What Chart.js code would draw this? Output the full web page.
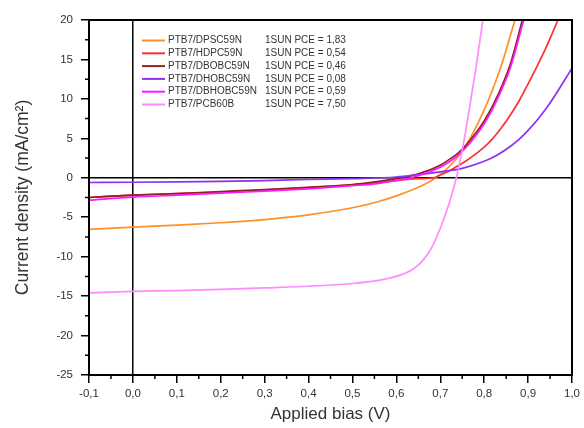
<!DOCTYPE html>
<html>
<head>
<meta charset="utf-8">
<script src="https://cdn.jsdelivr.net/npm/chart.js@4/dist/chart.umd.min.js"></script>
<style>
html,body{margin:0;padding:0;background:#fff;}
canvas{display:block;}
</style>
</head>
<body>
<canvas id="c" width="584" height="428"></canvas>
<script>
// ---- Data ----
const seriesNames = ["PTB7/DPSC59N","PTB7/HDPC59N","PTB7/DBOBC59N","PTB7/DHOBC59N","PTB7/DBHOBC59N","PTB7/PCB60B"];
const pceLabels = ["1SUN PCE = 1,83","1SUN PCE = 0,54","1SUN PCE = 0,46","1SUN PCE = 0,08","1SUN PCE = 0,59","1SUN PCE = 7,50"];

const vDPSC   = [-0.1, 0, 0.1, 0.2, 0.3, 0.4, 0.5, 0.56, 0.6, 0.65, 0.67, 0.69, 0.72, 0.75, 0.77, 0.79, 0.81, 0.84, 0.87];
const jDPSC   = [-6.55,-6.25,-6.0,-5.7,-5.3,-4.7,-3.8,-3.0,-2.3,-1.2,-0.65,0,1.4,3.4,5.2,7.4,9.9,14.4,20];

const vHDPC   = [-0.1, 0, 0.1, 0.2, 0.3, 0.4, 0.5, 0.56, 0.6, 0.65, 0.686, 0.7, 0.72, 0.74, 0.76, 0.78, 0.8, 0.82, 0.84, 0.86, 0.88, 0.9, 0.92, 0.94, 0.968];
const jHDPC   = [-2.5,-2.2,-2.0,-1.8,-1.55,-1.25,-0.9,-0.6,-0.35,-0.12,0,0.35,0.85,1.5,2.2,3.0,3.9,5.0,6.4,8.0,9.8,11.9,14.1,16.4,20];

const vDBOBC  = [-0.1, 0, 0.1, 0.2, 0.3, 0.4, 0.5, 0.56, 0.6, 0.65, 0.7, 0.72, 0.74, 0.76, 0.78, 0.8, 0.82, 0.84, 0.86, 0.887];
const jDBOBC  = [-2.5,-2.2,-2.0,-1.75,-1.5,-1.2,-0.85,-0.45,-0.1,0.5,1.6,2.3,3.1,4.2,5.6,7.2,9.2,11.6,14.5,20];

const vDHOBC  = [-0.1, 0, 0.1, 0.2, 0.3, 0.4, 0.5, 0.6, 0.65, 0.7, 0.75, 0.8, 0.83, 0.86, 0.88, 0.9, 0.925, 0.955, 1.0];
const jDHOBC  = [-0.6,-0.57,-0.52,-0.45,-0.35,-0.22,-0.1,0.1,0.4,0.75,1.2,2.1,2.9,4.0,4.9,6.0,7.6,9.9,13.9];

const vDBHOBC = [-0.1, 0, 0.1, 0.2, 0.3, 0.4, 0.5, 0.56, 0.6, 0.65, 0.7, 0.72, 0.74, 0.76, 0.78, 0.8, 0.82, 0.84, 0.86, 0.89];
const jDBHOBC = [-2.85,-2.45,-2.2,-1.95,-1.7,-1.4,-1.0,-0.7,-0.35,0.25,1.35,2.0,2.85,3.9,5.25,6.85,8.8,11.2,14.0,20];

const vPCB    = [-0.1, 0, 0.1, 0.2, 0.3, 0.4, 0.5, 0.56, 0.6, 0.62, 0.64, 0.66, 0.68, 0.7, 0.72, 0.73, 0.74, 0.75, 0.76, 0.78, 0.797];
const jPCB    = [-14.6,-14.4,-14.3,-14.15,-13.95,-13.75,-13.4,-13.0,-12.5,-12.1,-11.5,-10.5,-8.9,-6.4,-3.3,-1.4,0.8,3.5,6.6,13.5,20];

const seriesV = [vDPSC, vHDPC, vDBOBC, vDHOBC, vDBHOBC, vPCB];
const seriesJ = [jDPSC, jHDPC, jDBOBC, jDHOBC, jDBHOBC, jPCB];
const seriesColors = ["#ff8f26","#ff3030","#8b2323","#8a33f0","#ff18ff","#ff8cff"];

const yTicks = [-25,-20,-15,-10,-5,0,5,10,15,20];
const xTickMin = -0.1, xTickMax = 1.0;

// ---- Build datasets ----
const datasets = seriesNames.map((name, i) => ({
  label: name,
  data: seriesV[i].map((v, k) => ({x: v, y: seriesJ[i][k]})),
  borderColor: seriesColors[i],
  backgroundColor: seriesColors[i],
  borderWidth: 1.7,
  pointRadius: 0,
  showLine: true,
  fill: false,
  cubicInterpolationMode: 'monotone',
  order: 6 - i
}));

const FONT = "'Liberation Sans', Arial, sans-serif";
const TXT = '#333';

const framePlugin = {
  id: 'frame',
  afterDraw(chart) {
    const {ctx, chartArea: a, scales} = chart;
    ctx.save();
    ctx.strokeStyle = '#000';
    ctx.lineWidth = 2;
    ctx.strokeRect(a.left, a.top, a.right - a.left, a.bottom - a.top);
    // minor ticks
    ctx.lineWidth = 1.5;
    ctx.beginPath();
    for (let k = 0; k < yTicks.length - 1; k++) {
      const v = (yTicks[k] + yTicks[k+1]) / 2;
      const p = scales.y.getPixelForValue(v);
      ctx.moveTo(a.left - 4, p); ctx.lineTo(a.left, p);
    }
    for (let k = 0; k < 11; k++) {
      const v = xTickMin + 0.05 + k * 0.1;
      const p = scales.x.getPixelForValue(v);
      ctx.moveTo(p, a.bottom); ctx.lineTo(p, a.bottom + 4);
    }
    ctx.stroke();
    // legend
    const x0 = 142, x1 = 165, tx = 168, px = 265, y0 = 40.5, dy = 12.8;
    ctx.font = "10px " + FONT;
    ctx.textBaseline = 'middle';
    ctx.fillStyle = TXT;
    chart.data.datasets.forEach((ds, i) => {
      const y = y0 + i * dy;
      ctx.strokeStyle = ds.borderColor;
      ctx.lineWidth = 2;
      ctx.beginPath(); ctx.moveTo(x0, y); ctx.lineTo(x1, y); ctx.stroke();
      ctx.fillText(ds.label, tx, y);
      ctx.fillText(pceLabels[i], px, y);
    });
    ctx.restore();
  }
};

const zeroColor = c => (c.tick && Math.abs(c.tick.value) < 1e-9) ? '#000' : 'rgba(0,0,0,0)';

new Chart(document.getElementById('c'), {
  type: 'scatter',
  data: {datasets},
  options: {
    responsive: false,
    animation: false,
    devicePixelRatio: 1,
    layout: {padding: {top: 20, right: 11, left: 0, bottom: 0}},
    plugins: {legend: {display: false}, tooltip: {enabled: false}},
    scales: {
      x: {
        type: 'linear',
        min: xTickMin, max: xTickMax,
        ticks: {
          stepSize: 0.1,
          color: TXT,
          font: {family: FONT, size: 11.5},
          padding: 4,
          maxRotation: 0,
          callback: v => (Math.round(v * 10) / 10).toFixed(1).replace('.', ',')
        },
        grid: {color: zeroColor, lineWidth: 1.5, tickColor: '#000', tickLength: 8, tickWidth: 1.5, drawOnChartArea: true},
        border: {display: true, color: '#000', width: 2},
        title: {display: true, text: 'Applied bias (V)', color: TXT, font: {family: FONT, size: 17}, padding: {top: 0, bottom: 3}},
        afterFit: s => { s.height = 53; }
      },
      y: {
        type: 'linear',
        min: -25, max: 20,
        ticks: {
          stepSize: 5,
          color: TXT,
          font: {family: FONT, size: 11.5},
          padding: 8,
          callback: v => String(v)
        },
        grid: {color: zeroColor, lineWidth: 1.5, tickColor: '#000', tickLength: 8, tickWidth: 1.5, drawOnChartArea: true},
        border: {display: true, color: '#000', width: 2},
        title: {display: true, text: 'Current density (mA/cm²)', color: TXT, font: {family: FONT, size: 17.5}, padding: {top: 13, bottom: 0}},
        afterFit: s => { s.width = 89; }
      }
    }
  },
  plugins: [framePlugin]
});
</script>
</body>
</html>
